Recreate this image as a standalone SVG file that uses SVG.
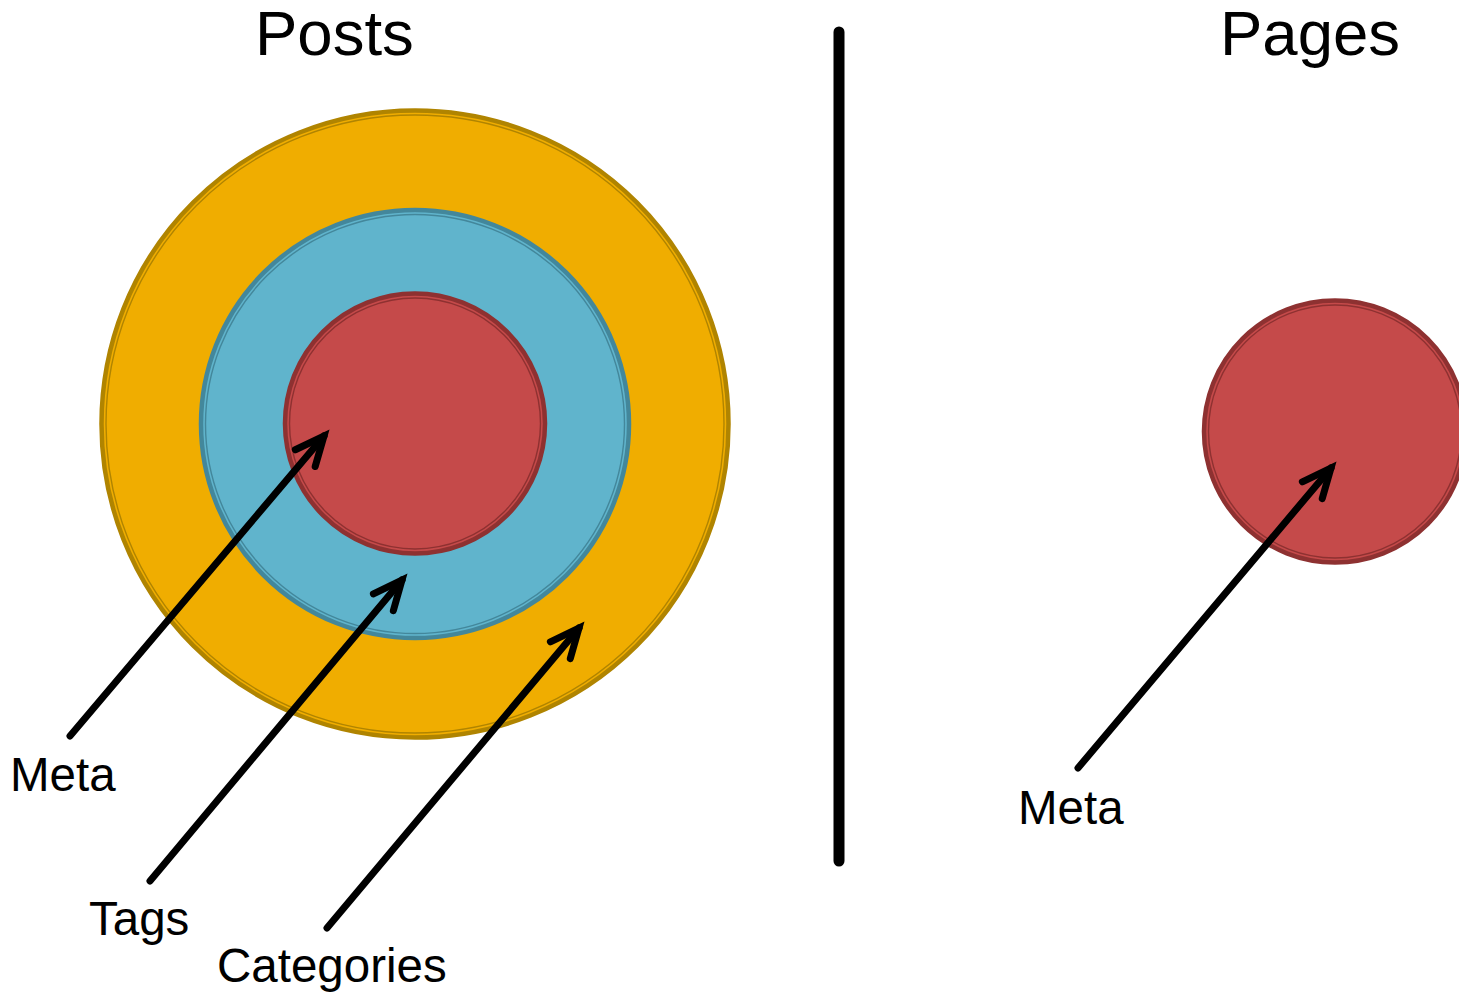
<svg xmlns="http://www.w3.org/2000/svg" width="1459" height="995" viewBox="0 0 1459 995">
<style>
.lbl{font-family:"Liberation Sans",Arial,sans-serif;fill:#000}
.t{font-size:63.5px}
.s{font-size:47.5px}
.orange{fill:#F0AD00;stroke:#B08400;stroke-width:4.5}
.orange-in{fill:none;stroke:#B08400;stroke-width:1.4}
.blue{fill:#60B4CC;stroke:#43879B;stroke-width:4.5}
.blue-in{fill:none;stroke:#43879B;stroke-width:1.4}
.red{fill:#C54A4A;stroke:#8E3131;stroke-width:4.5}
.red-in{fill:none;stroke:#8E3131;stroke-width:1.4}
.arrow{fill:none;stroke:#000;stroke-width:7;stroke-linecap:round;marker-end:url(#ah)}
</style>
<defs>
<marker id="ah" markerUnits="userSpaceOnUse" orient="auto" markerWidth="60" markerHeight="60" refX="0" refY="0" overflow="visible">
<path d="M -29 -13 L 0 0 L -29 13" fill="none" stroke="#000" stroke-width="7" stroke-linecap="round" stroke-linejoin="miter"/>
</marker>
</defs>
<rect width="1459" height="995" fill="#fff"/>
<g id="title-posts"><text class="lbl t" x="255" y="55">Posts</text></g>
<g id="title-pages"><text class="lbl t" x="1220" y="55">Pages</text></g>
<g id="categories-circle">
<circle class="orange" cx="415" cy="424" r="313.5"/>
<circle class="orange-in" cx="415" cy="424" r="309"/>
</g>
<g id="tags-circle">
<circle class="blue" cx="415" cy="424" r="214"/>
<circle class="blue-in" cx="415" cy="424" r="209.5"/>
</g>
<g id="meta-circle-posts">
<circle class="red" cx="415" cy="423.5" r="130"/>
<circle class="red-in" cx="415" cy="423.5" r="125.5"/>
</g>
<g id="meta-circle-pages">
<circle class="red" cx="1335" cy="431.5" r="131"/>
<circle class="red-in" cx="1335" cy="431.5" r="126.5"/>
</g>
<g id="divider">
<line x1="839" y1="32" x2="839" y2="861" stroke="#000" stroke-width="11" stroke-linecap="round"/>
</g>
<g id="connectors">
<line class="arrow" x1="70" y1="736" x2="324" y2="436"/>
<line class="arrow" x1="150" y1="881" x2="402" y2="580"/>
<line class="arrow" x1="327" y1="928" x2="579" y2="628"/>
<line class="arrow" x1="1078" y1="768" x2="1331" y2="468"/>
</g>
<g id="label-meta-posts"><text class="lbl s" x="10" y="791">Meta</text></g>
<g id="label-tags"><text class="lbl s" x="89" y="935">Tags</text></g>
<g id="label-categories"><text class="lbl s" x="217" y="982">Categories</text></g>
<g id="label-meta-pages"><text class="lbl s" x="1018" y="824">Meta</text></g>
</svg>
